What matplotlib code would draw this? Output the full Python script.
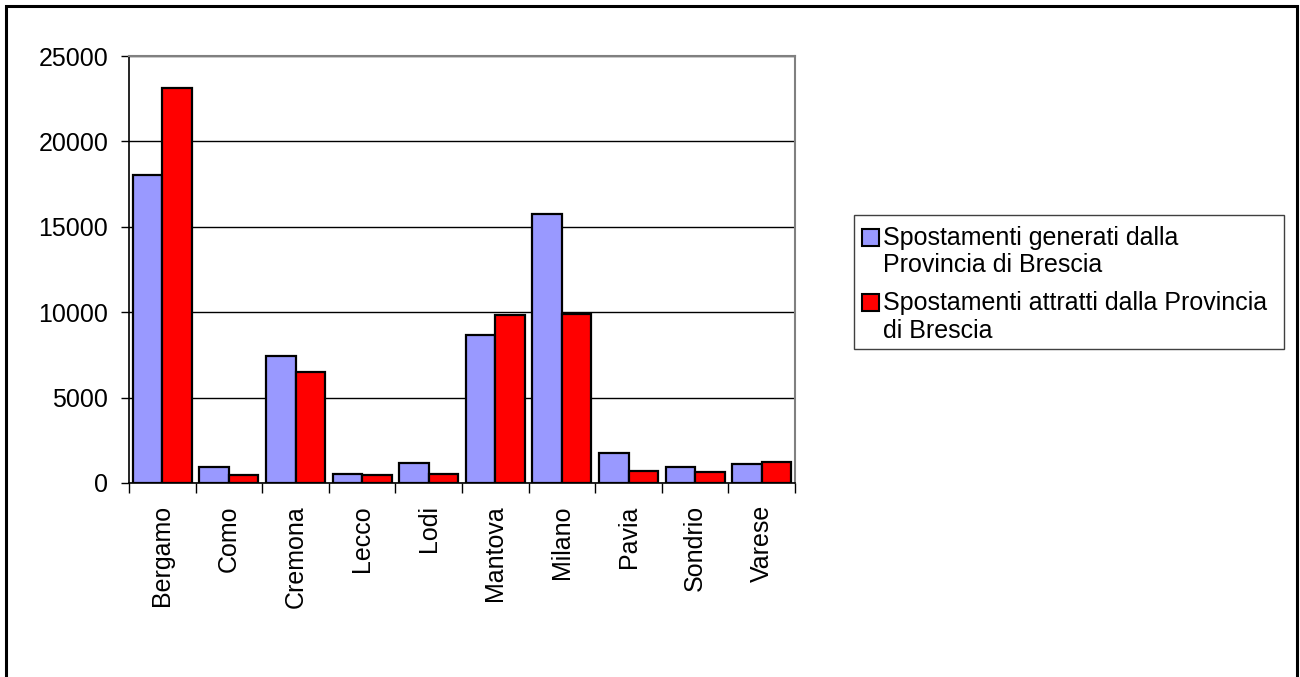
import numpy as np
import matplotlib.pyplot as plt
from matplotlib.patches import Rectangle

plt.rcParams['font.family'] = ['Liberation Sans', 'DejaVu Sans']

province = ["Bergamo", "Como", "Cremona", "Lecco", "Lodi",
            "Mantova", "Milano", "Pavia", "Sondrio", "Varese"]
generati = [18050, 915, 7450, 545, 1170, 8665, 15770, 1757, 937, 1112]
attratti = [23105, 490, 6520, 470, 540, 9815, 9895, 680, 645, 1230]
label_gen = ["Spostamenti generati dalla", "Provincia di Brescia"]
label_att = ["Spostamenti attratti dalla Provincia", "di Brescia"]
yticks = [0, 5000, 10000, 15000, 20000, 25000]

col_gen = "#9999FF"
col_att = "#FF0000"
FS = 18

W, H = 1300, 677
fig = plt.figure(figsize=(W / 100, H / 100), dpi=100)
fig.patch.set_facecolor("white")


def px(x, y):
    # pixel position (from top-left) -> figure fraction
    return x / W, 1 - y / H


# outer frame of the chart object
fig.add_artist(Rectangle((6 / W, -0.01), (1297 - 6) / W, (H - 6) / H + 0.01,
                         transform=fig.transFigure, fill=False,
                         edgecolor="black", linewidth=2.2))

ax = fig.add_axes([129 / W, (H - 483) / H, 666 / W, 427 / H])

x = np.arange(len(province))
bw = 0.443
ax.bar(x - bw / 2, generati, bw, color=col_gen, edgecolor="black",
       linewidth=1.6, zorder=3)
ax.bar(x + bw / 2, attratti, bw, color=col_att, edgecolor="black",
       linewidth=1.6, zorder=3)

ax.set_xlim(-0.5, len(province) - 0.5)
ax.set_ylim(0, 25000)
ax.set_yticks(yticks)
ax.set_yticklabels([str(v) for v in yticks], fontsize=FS)
ax.tick_params(axis="y", length=6, width=1, pad=9, direction="out")
ax.yaxis.grid(True, color="black", linewidth=1, zorder=0)
ax.set_axisbelow(True)

ax.set_xticks(x)
ax.set_xticklabels(province, rotation=90, fontsize=FS, va="top")
ax.tick_params(axis="x", which="major", length=0, pad=16)
ax.set_xticks(np.arange(len(province) + 1) - 0.5, minor=True)
ax.tick_params(axis="x", which="minor", length=7, width=1, direction="out")

for side in ("top", "right"):
    ax.spines[side].set_color("#808080")
    ax.spines[side].set_linewidth(1.5)
for side in ("left", "bottom"):
    ax.spines[side].set_color("black")
    ax.spines[side].set_linewidth(1.2)

# legend box at the right, square key next to the first line of each entry
x0, y0 = px(854, 349)
x1, y1 = px(1284, 215)
fig.add_artist(Rectangle((x0, y0), x1 - x0, y1 - y0, transform=fig.transFigure,
                         fill=False, edgecolor="#404040", linewidth=1))
entries = [(col_gen, label_gen, 229, (245, 272)),
           (col_att, label_att, 294, (310, 338))]
for color, lines, sq_top, baselines in entries:
    sx, sy = px(862, sq_top + 17)
    fig.add_artist(Rectangle((sx, sy), 17 / W, 17 / H, transform=fig.transFigure,
                             facecolor=color, edgecolor="black", linewidth=1.5))
    for line, base in zip(lines, baselines):
        tx, ty = px(883, base)
        fig.text(tx, ty, line, fontsize=FS, va="baseline", ha="left")

fig.savefig("out.png", dpi=100)
